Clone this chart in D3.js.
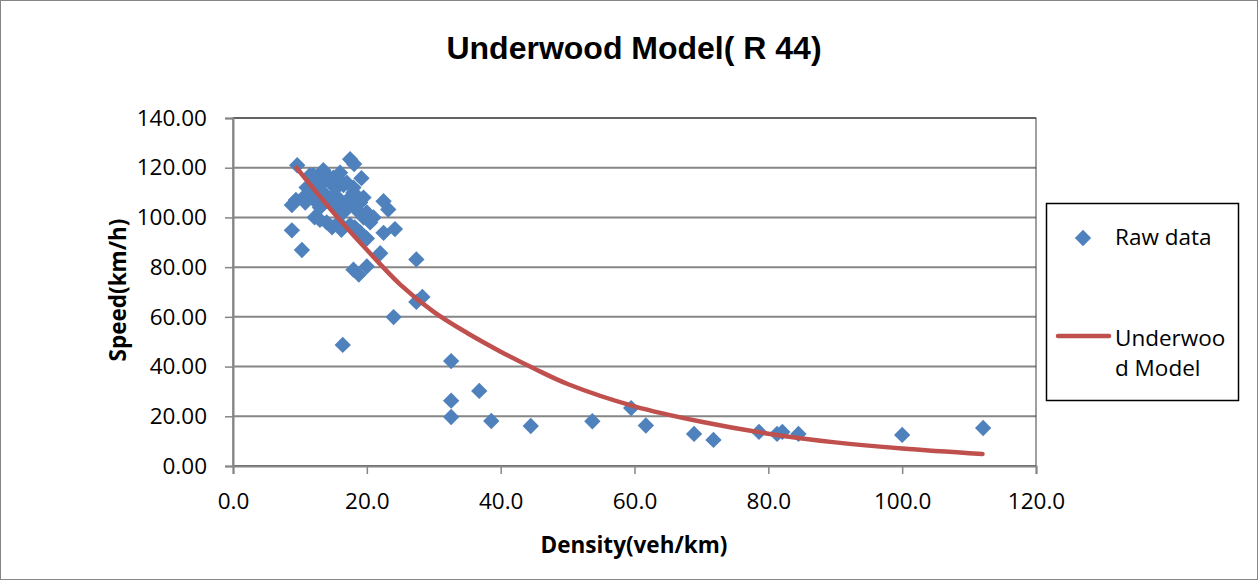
<!DOCTYPE html>
<html>
<head>
<meta charset="utf-8">
<script src="https://cdn.jsdelivr.net/npm/d3@7"></script>
<style>
  body { margin: 0; background: #fff; }
  svg text { font-family: "Open Sans", "Liberation Sans", sans-serif; }
</style>
</head>
<body>
<svg id="chart" width="1260" height="582"></svg>
<script>
var raw_density = [
  9.6, 17.5, 18.1, 19.2, 8.8, 9.4, 8.8, 10.3, 22.5, 23.2, 24.2, 22.5, 27.4, 22.0,
  18.0, 20.0, 18.8, 16.4, 24.0, 27.4, 28.3, 32.6, 32.6, 32.6, 36.8, 38.6, 44.5,
  53.7, 59.5, 61.7, 68.9, 71.8, 78.6, 81.3, 82.1, 84.5, 100.0, 112.1,
  12.0, 12.5, 13.0, 13.5, 14.0, 14.5, 15.0, 15.5, 16.0, 16.5, 17.0, 11.0, 11.5,
  12.0, 12.5, 13.0, 13.5, 14.0, 14.5, 15.0, 15.5, 16.0, 16.5, 17.0, 17.5, 18.0,
  18.5, 19.0, 19.5, 20.0, 10.5, 10.8, 12.2, 13.0, 14.0, 14.8, 15.8, 16.2, 17.5,
  18.2, 19.0, 20.0, 20.5, 21.0, 18.0, 19.5, 16.0, 13.5, 11.5, 19.9
];
var raw_speed = [
  121.0, 123.4, 121.5, 115.8, 105.0, 107.0, 94.8, 86.9, 106.5, 103.2, 95.3, 93.8, 83.1, 85.6,
  79.0, 80.3, 77.0, 48.7, 59.9, 66.0, 68.0, 42.2, 26.3, 19.7, 30.2, 18.1, 16.1,
  18.0, 23.3, 16.3, 12.9, 10.5, 13.7, 12.9, 13.7, 12.9, 12.5, 15.3,
  117.0, 115.0, 113.0, 116.0, 117.0, 114.0, 116.0, 112.0, 115.0, 113.0, 114.0, 112.0, 110.0,
  108.0, 106.0, 104.0, 110.0, 108.0, 106.0, 109.0, 104.0, 107.0, 102.0, 105.0, 108.0, 110.0,
  103.0, 106.0, 100.0, 102.0, 108.0, 106.0, 100.0, 99.0, 98.0, 96.0, 98.0, 95.0, 97.0,
  96.0, 94.0, 91.5, 98.0, 100.0, 112.0, 108.0, 118.0, 119.0, 117.0, 91.7
];

// fitted Underwood curve
var model_density = [9.5, 15, 20, 25, 30, 35, 40, 45, 50, 60, 70, 80, 90, 100, 112];
var model_speed = [120, 102, 87, 73, 62, 53.5, 46, 39.2, 33, 24, 17.8, 13, 9.5, 7, 4.8];

var x_ticks = [0, 20, 40, 60, 80, 100, 120];
var y_ticks = [0, 20, 40, 60, 80, 100, 120, 140];

var svg = d3.select('#chart');
var plotLeft = 233, plotRight = 1036, plotTop = 118, plotBottom = 466;

// outer frame
svg.append('rect')
   .attr('x', 0.5).attr('y', 0.5)
   .attr('width', 1257).attr('height', 579)
   .attr('fill', '#fff')
   .attr('stroke', '#868686')
   .attr('stroke-width', 1);

var x = d3.scaleLinear().domain([0, 120]).range([plotLeft, plotRight]);
var y = d3.scaleLinear().domain([0, 140]).range([plotBottom, plotTop]);

// gridlines
svg.append('g')
   .selectAll('line')
   .data(y_ticks)
   .enter()
   .append('line')
   .attr('x1', plotLeft).attr('x2', plotRight)
   .attr('y1', function(d) { return y(d); })
   .attr('y2', function(d) { return y(d); })
   .attr('stroke', '#868686')
   .attr('stroke-width', 2);

// plot area border
svg.append('rect')
   .attr('x', plotLeft).attr('y', plotTop)
   .attr('width', plotRight - plotLeft).attr('height', plotBottom - plotTop)
   .attr('fill', 'none')
   .attr('stroke', '#404040')
   .attr('stroke-width', 1);

var xAxis = svg.append('g')
   .attr('transform', 'translate(0,' + plotBottom + ')')
   .call(d3.axisBottom(x).tickValues(x_ticks).tickSize(8).tickPadding(19)
        .tickFormat(d3.format('.1f')));
var yAxis = svg.append('g')
   .attr('transform', 'translate(' + plotLeft + ',0)')
   .call(d3.axisLeft(y).tickValues(y_ticks).tickSize(8).tickPadding(18)
        .tickFormat(d3.format('.2f')));

[xAxis, yAxis].forEach(function(ax) {
    ax.select('.domain').attr('stroke', '#868686').attr('stroke-width', 2);
    ax.selectAll('.tick line').attr('stroke', '#868686').attr('stroke-width', 1.5);
    ax.selectAll('.tick text')
      .attr('fill', '#000')
      .style('font-size', '22.5px')
      .style('font-family', '"Open Sans", sans-serif');
});

// model curve
var line = d3.line()
    .x(function(d, i) { return x(model_density[i]); })
    .y(function(d, i) { return y(model_speed[i]); })
    .curve(d3.curveCatmullRom);

// raw data diamonds
var diamond = d3.symbol().type(d3.symbolDiamond2).size(170);
svg.append('g')
   .selectAll('path')
   .data(raw_density)
   .enter()
   .append('path')
   .attr('d', diamond)
   .attr('transform', function(d, i) {
       return 'translate(' + x(d) + ',' + y(raw_speed[i]) + ')';
   })
   .attr('fill', '#4F81BD');

svg.append('path')
   .datum(model_density)
   .attr('d', line)
   .attr('fill', 'none')
   .attr('stroke', '#C0504D')
   .attr('stroke-width', 4.5)
   .attr('stroke-linecap', 'round');

// titles
svg.append('text')
   .attr('x', 634).attr('y', 59)
   .attr('text-anchor', 'middle')
   .style('font-family', '"Liberation Sans", Arial, sans-serif')
   .style('font-weight', 'bold')
   .style('font-size', '32px')
   .text('Underwood Model( R 44)');

svg.append('text')
   .attr('x', 634).attr('y', 553)
   .attr('text-anchor', 'middle')
   .style('font-weight', 'bold')
   .style('font-size', '22.5px')
   .text('Density(veh/km)');

svg.append('text')
   .attr('transform', 'translate(126,290) rotate(-90)')
   .attr('text-anchor', 'middle')
   .style('font-weight', 'bold')
   .style('font-size', '22.5px')
   .text('Speed(km/h)');

// legend
var legend = svg.append('g');
legend.append('rect')
   .attr('x', 1046.5).attr('y', 203.5)
   .attr('width', 192).attr('height', 197)
   .attr('fill', '#fff')
   .attr('stroke', '#000')
   .attr('stroke-width', 1.5);
legend.append('path')
   .attr('d', diamond)
   .attr('transform', 'translate(1083,238)')
   .attr('fill', '#4F81BD');
legend.append('text')
   .attr('x', 1115).attr('y', 245)
   .style('font-size', '22.5px')
   .text('Raw data');
legend.append('line')
   .attr('x1', 1058).attr('x2', 1109)
   .attr('y1', 336).attr('y2', 336)
   .attr('stroke', '#C0504D')
   .attr('stroke-width', 4.5)
   .attr('stroke-linecap', 'round');
legend.append('text')
   .attr('x', 1115).attr('y', 346)
   .style('font-size', '22.5px')
   .text('Underwoo');
legend.append('text')
   .attr('x', 1115).attr('y', 376)
   .style('font-size', '22.5px')
   .text('d Model');
</script>
</body>
</html>
